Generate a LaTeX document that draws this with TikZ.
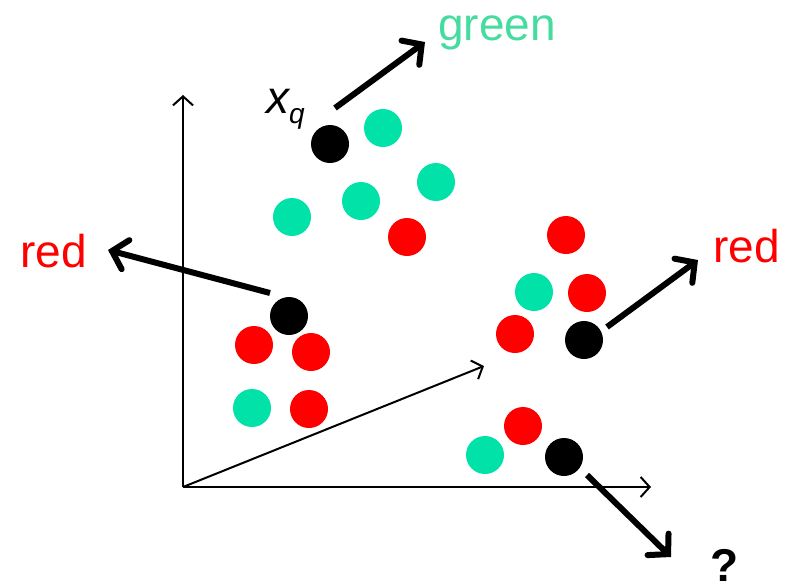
\documentclass[tikz,border=0pt]{standalone}
\usepackage{fontspec}
\setmainfont{Liberation Sans}
\usetikzlibrary{arrows.meta}
\definecolor{dotgreen}{RGB}{0,226,168}
\definecolor{labgreen}{RGB}{70,220,160}
\definecolor{dotred}{RGB}{255,0,0}
\tikzset{
  dot/.style={circle, inner sep=0pt, minimum size=38pt, draw=none},
  gdot/.style={dot, fill=dotgreen},
  rdot/.style={dot, fill=dotred},
  kdot/.style={dot, fill=black},
  axis/.style={line width=2pt, -{Straight Barb[length=9pt,width=20pt,line width=2pt]}},
  bigarrow/.style={line width=6pt, -{Straight Barb[length=14pt,width=30pt,line width=6pt,line cap=round]}},
  lab/.style={font=\fontsize{46}{50}\selectfont, inner sep=0pt, anchor=base west}
}
\begin{document}
\begin{tikzpicture}[x=1pt,y=-1pt]
\useasboundingbox (0,0) rectangle (790,582);
% axes
\coordinate (O) at (183,487);
\coordinate (Ytip) at (183,95);
\coordinate (Xtip) at (651,487);
\coordinate (Ztip) at (484,366);
\draw[axis] (O) -- (Ytip);
\draw[axis] (O) -- (Xtip);
\draw[axis] (O) -- (Ztip);
% dots
\node[kdot] (q1) at (330,144) {};
\node[gdot] (g1) at (383,128) {};
\node[gdot] (g2) at (436,182) {};
\node[gdot] (g3) at (361,201) {};
\node[gdot] (g4) at (292,217) {};
\node[rdot] (r1) at (407,237) {};
\node[kdot] (q2) at (289,316) {};
\node[rdot] (r2) at (254,345) {};
\node[rdot] (r3) at (311,352) {};
\node[gdot] (g5) at (252,408) {};
\node[rdot] (r4) at (309,409) {};
\node[rdot] (r5) at (566,235) {};
\node[gdot] (g6) at (534,292) {};
\node[rdot] (r6) at (587,293) {};
\node[rdot] (r7) at (515,334) {};
\node[kdot] (q3) at (584,340) {};
\node[rdot] (r8) at (523,426) {};
\node[gdot] (g7) at (485,455) {};
\node[kdot] (q4) at (564,457) {};
% labels
\node[lab, text=labgreen] (lgreen) at (438,40) {green};
\node[lab, text=dotred] (lred1) at (20,267) {red};
\node[lab, text=dotred] (lred2) at (713,262) {red};
\node[lab, font=\fontsize{46}{50}\selectfont\bfseries] (lq) at (710,581) {?};
\node[lab] (xq) at (266,113) {\itshape x\raisebox{-10pt}{\fontsize{28}{30}\selectfont q}};
% arrows
\coordinate (s1) at (335,108); \coordinate (e1) at (425,42);
\coordinate (s2) at (270,293); \coordinate (e2) at (108,250);
\coordinate (s3) at (607,327); \coordinate (e3) at (698,260);
\coordinate (s4) at (587,475); \coordinate (e4) at (671,557);
\draw[bigarrow] (s1) -- (e1);
\draw[bigarrow] (s2) -- (e2);
\draw[bigarrow] (s3) -- (e3);
\draw[bigarrow] (s4) -- (e4);
\end{tikzpicture}
\end{document}
